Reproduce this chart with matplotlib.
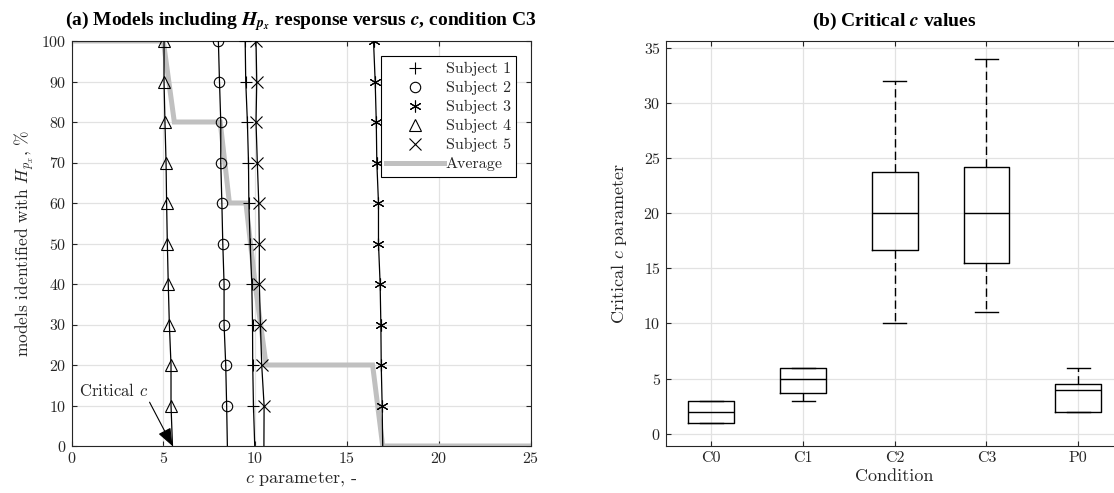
import matplotlib
matplotlib.use("Agg")
import matplotlib.pyplot as plt

plt.rcParams["font.family"] = ["cmr10", "DejaVu Serif"]
plt.rcParams["mathtext.fontset"] = "cm"
plt.rcParams["axes.formatter.use_mathtext"] = True
plt.rcParams["axes.unicode_minus"] = False

# ---- panel (a): models including H_px response vs c (condition C3) ----
LEVELS = [100, 90, 80, 70, 60, 50, 40, 30, 20, 10]
SUBJECTS = ["Subject 1", "Subject 2", "Subject 3", "Subject 4", "Subject 5"]
SUBJ_X = [
    [9.46, 9.49, 9.58, 9.64, 9.66, 9.73, 9.82, 9.86, 9.87, 9.91],
    [8.00, 8.06, 8.13, 8.13, 8.19, 8.24, 8.31, 8.31, 8.40, 8.45],
    [16.45, 16.54, 16.60, 16.63, 16.72, 16.72, 16.81, 16.85, 16.87, 16.92],
    [5.04, 5.04, 5.09, 5.15, 5.18, 5.22, 5.27, 5.33, 5.42, 5.42],
    [10.05, 10.09, 10.05, 10.12, 10.20, 10.23, 10.23, 10.29, 10.36, 10.49],
]
SUBJ_XEND = [9.98, 8.49, 16.95, 5.50, 10.48]
MARKERS = ["+", "o", (6, 2, 0), "^", "x"]

AVG_X = [0, 5.0, 5.6, 8.1, 8.6, 9.5, 10.0, 10.6, 16.4, 16.95, 25]
AVG_Y = [100, 100, 80, 80, 60, 60, 40, 20, 20, 0, 0]

# ---- panel (b): critical c values ----
CONDITIONS = ["C0", "C1", "C2", "C3", "P0"]
WHISK_LO = [1.0, 3.0, 10.0, 11.0, 2.0]
Q1 = [1.0, 3.73, 16.7, 15.5, 2.0]
MEDIAN = [2.0, 5.0, 20.0, 20.0, 4.0]
Q3 = [3.0, 6.0, 23.72, 24.23, 4.48]
WHISK_HI = [3.0, 6.0, 32.0, 34.0, 6.0]

TXT = "#262626"
GRID = "#e2e2e2"

fig = plt.figure(figsize=(11.14, 4.93), dpi=100)
ax1 = fig.add_axes([71.5 / 1114, 47 / 493, 459 / 1114, 405 / 493])
ax2 = fig.add_axes([665.5 / 1114, 47 / 493, 458.5 / 1114, 405 / 493])


def style_axes(ax):
    ax.grid(True, color=GRID, lw=0.9)
    ax.set_axisbelow(True)
    ax.tick_params(direction="in", length=3.5, width=0.8, colors=TXT,
                   labelsize=11.5, top=True, right=True)
    for s in ax.spines.values():
        s.set_color(TXT)
        s.set_linewidth(0.8)


# panel (a)
style_axes(ax1)
ax1.plot(AVG_X, AVG_Y, color="#c0c0c0", lw=3.6, solid_joinstyle="miter",
         label="Average", zorder=2)
handles = []
for name, xs, xe, mk in zip(SUBJECTS, SUBJ_X, SUBJ_XEND, MARKERS):
    ax1.plot(xs + [xe], LEVELS + [0], color="k", lw=0.9, zorder=3)
    ms = 7.5 if mk == "o" else 8.5
    h, = ax1.plot(xs, LEVELS, ls="none", marker=mk, ms=ms, mfc="none",
                  mec="k", mew=0.8, label=name, zorder=4)
    handles.append(h)
avg_handle = ax1.get_lines()[0]

ax1.set_xlim(0, 25)
ax1.set_ylim(0, 100)
ax1.set_xticks(range(0, 26, 5))
ax1.set_yticks(range(0, 101, 10))
ax1.set_xlabel("$c$ parameter, -", fontsize=13, color=TXT, labelpad=3)
ax1.set_ylabel("models identified with $H_{p_x}$, %", fontsize=12.5, color=TXT,
               labelpad=3)
ax1.set_title(r"(a) Models including $\mathbfit{H_{p_x}}$ response versus $\mathbfit{c}$, condition C3",
              fontsize=14, fontweight="bold", family="Liberation Serif",
              math_fontfamily="stix", pad=11)

ax1.annotate("Critical $c$", xy=(5.5, 0), xytext=(0.4, 13.6),
             fontsize=12, color=TXT, va="center", ha="left",
             arrowprops=dict(arrowstyle="-|>,head_length=0.9,head_width=0.35",
                             color="k", lw=0.8, shrinkA=0, shrinkB=0,
                             relpos=(1.0, 0.0)))

leg = ax1.legend(handles + [avg_handle], SUBJECTS + ["Average"],
                 loc="upper right", bbox_to_anchor=(0.969, 0.962),
                 fontsize=11.5, frameon=True, fancybox=False, framealpha=1,
                 edgecolor="k", handlelength=3.6, handletextpad=0.1,
                 borderpad=0.35, labelspacing=0.3, borderaxespad=0,
                 markerfirst=True)
leg.get_frame().set_linewidth(0.8)
for t in leg.get_texts():
    t.set_color(TXT)

# panel (b)
style_axes(ax2)
stats = []
for lab, wl, q1, med, q3, wh in zip(CONDITIONS, WHISK_LO, Q1, MEDIAN, Q3, WHISK_HI):
    stats.append(dict(label=lab, whislo=wl, q1=q1, med=med, q3=q3,
                      whishi=wh, fliers=[]))
ax2.bxp(stats, positions=range(1, len(CONDITIONS) + 1), widths=0.5,
        showfliers=False,
        boxprops=dict(color="k", lw=1.0),
        medianprops=dict(color="k", lw=1.0),
        whiskerprops=dict(color="k", lw=1.0, ls=(0, (6, 3))),
        capprops=dict(color="k", lw=1.0),
        capwidths=0.25)
ax2.set_xlim(0.5, 5.5)
ax2.set_ylim(-1.12, 35.64)
ax2.set_yticks(range(0, 36, 5))
ax2.set_xticks(range(1, 6))
ax2.set_xticklabels(CONDITIONS)
ax2.set_xlabel("Condition", fontsize=13, color=TXT, labelpad=3)
ax2.set_ylabel("Critical $c$ parameter", fontsize=13, color=TXT, labelpad=10)
ax2.set_title(r"(b) Critical $\mathbfit{c}$ values", fontsize=14,
              fontweight="bold", family="Liberation Serif",
              math_fontfamily="stix", pad=11)

fig.savefig("out.png", dpi=100)
